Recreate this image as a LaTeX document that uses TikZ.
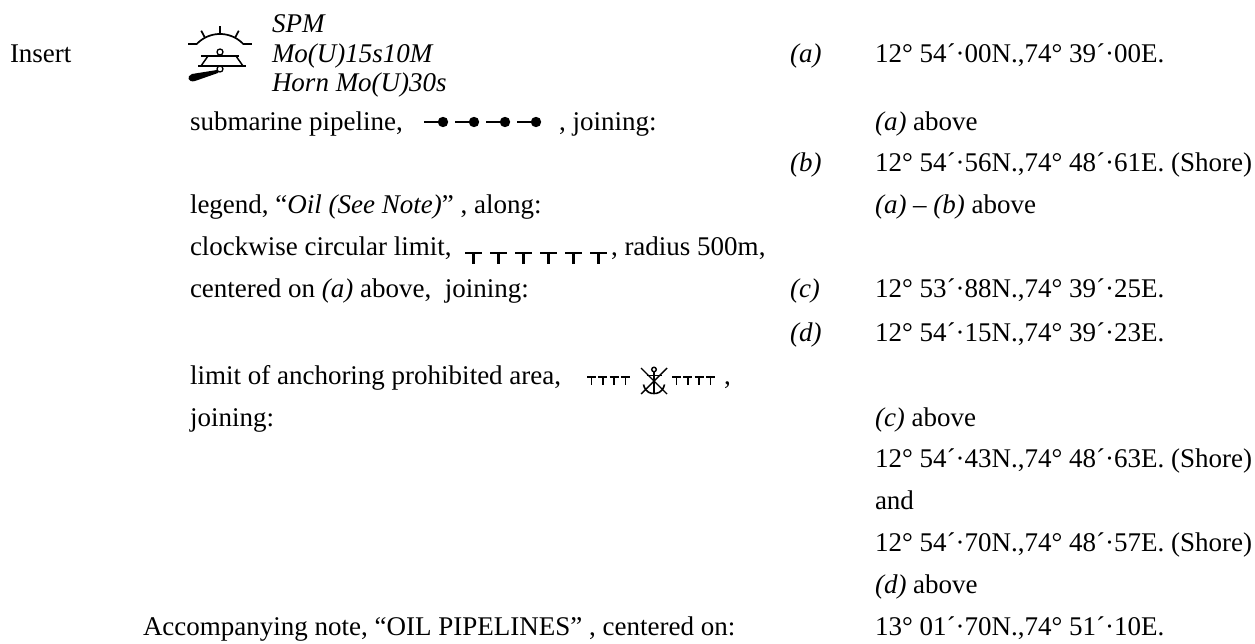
\documentclass[tikz,border=0pt]{standalone}
\usepackage{fontspec}
\setmainfont{Liberation Serif}
\begin{document}
\begin{tikzpicture}[x=1pt,y=-1pt,
  txt/.style={anchor=base west, inner sep=0pt, outer sep=0pt, font=\fontsize{27}{32}\selectfont},
  symline/.style={line width=2.4pt},
  thinsym/.style={line width=1.5pt}]
\useasboundingbox (0,0) rectangle (1255,644);

% ---- Insert block ----
\node[txt] (ins) at (10,63) {Insert};
\node[txt] (spm) at (272,33) {\itshape SPM};
\node[txt] (mo) at (272,63) {\itshape Mo(U)15s10M};
\node[txt] (horn) at (272,92) {\itshape Horn Mo(U)30s};

% SPM light-buoy symbol
\draw[line width=1.7pt] plot[domain=43:137, samples=30] ({220+32*cos(\x)},{66-32*sin(\x)});
\foreach \a in {62,90,118}
  \draw[line width=1.7pt] ({220+32*cos(\a)},{66-32*sin(\a)}) -- ({220+40*cos(\a)},{66-40*sin(\a)});
\draw[line width=1.7pt] (196.6,44.2) -- (188,44.2);
\draw[line width=1.7pt] (243.4,44.2) -- (252,44.2);
\draw[line width=1.5pt] (201,56) -- (239,56);
\draw[line width=1.5pt] (208,56) -- (201,66) -- (243,66) -- (236,56);
\draw[line width=1.5pt] (198,66) -- (246,66);
\draw[line width=1.3pt, fill=white] (220,52) circle (3);
\fill (217,70) -- (218.5,72.8) -- (195,81) .. controls (188,83) and (186,76) .. (192,74) -- cycle;
\draw[line width=1.3pt, fill=white] (220,69) circle (3);

\node[txt] (la) at (790,63) {\itshape (a)};
\node[txt] (ca) at (875,63) {12° 54´·00N.,74° 39´·00E.};

% ---- submarine pipeline ----
\node[txt] (pipe) at (190,131) {submarine pipeline,};
\foreach \i in {0,1,2,3} {
  \draw[line width=2.2pt] ({424+31*\i},122) -- ({440+31*\i},122);
  \fill ({443+31*\i},122) circle (5.2);
}
\node[txt] (pipej) at (559,131) {, joining:};
\node[txt] (aab) at (875,131) {\itshape (a)\upshape\ above};

\node[txt] (lb) at (790,172) {\itshape (b)};
\node[txt] (cb) at (875,172) {12° 54´·56N.,74° 48´·61E. (Shore)};

% ---- legend ----
\node[txt] (leg) at (190,214) {legend, ``\textit{Oil (See Note)}'' , along:};
\node[txt] (abab) at (875,214) {\textit{(a)} – \textit{(b)} above};

% ---- clockwise circular limit ----
\node[txt] (clk) at (190,256) {clockwise circular limit,};
\foreach \i in {0,...,5} {
  \draw[symline] ({465+25*\i},253) -- ({482+25*\i},253);
  \draw[symline] ({473.5+25*\i},253) -- ({473.5+25*\i},264);
}
\node[txt] (rad) at (611,256) {, radius 500m,};

\node[txt] (cen) at (190,298) {centered on \textit{(a)} above,\ \ joining:};
\node[txt] (lc) at (790,298) {\itshape (c)};
\node[txt] (cc) at (875,298) {12° 53´·88N.,74° 39´·25E.};

\node[txt] (ld) at (790,341) {\itshape (d)};
\node[txt] (cd) at (875,341) {12° 54´·15N.,74° 39´·23E.};

% ---- anchoring prohibited ----
\node[txt] (anc) at (190,384) {limit of anchoring prohibited area,};
\foreach \s in {587,672} {
  \foreach \i in {0,...,3} {
    \draw[thinsym] ({\s+11.3*\i},377) -- ({\s+9+11.3*\i},377);
    \draw[thinsym] ({\s+4.5+11.3*\i},377) -- ({\s+4.5+11.3*\i},384.5);
  }
}
% anchor with cross
\draw[line width=1.4pt] (654,369.5) circle (2.3);
\draw[line width=1.6pt] (654,371.8) -- (654,393);
\draw[line width=1.6pt] (646.5,375.5) -- (661.5,375.5);
\draw[line width=1.6pt] (643.5,384.5) .. controls (645.5,393) and (651,393.5) .. (654,393.5) .. controls (657,393.5) and (662.5,393) .. (664.5,384.5);
\draw[line width=1.4pt] (641,368) -- (667,394);
\draw[line width=1.4pt] (641,394) -- (667,368);
\node[txt] (ancc) at (724,384) {,};

\node[txt] (join) at (190,426) {joining:};
\node[txt] (cab) at (875,426) {\itshape (c)\upshape\ above};
\node[txt] (c1) at (875,467) {12° 54´·43N.,74° 48´·63E. (Shore)};
\node[txt] (and) at (875,509) {and};
\node[txt] (c2) at (875,551) {12° 54´·70N.,74° 48´·57E. (Shore)};
\node[txt] (dab) at (875,593) {\itshape (d)\upshape\ above};

\node[txt] (note) at (143,635) {Accompanying note, ``OIL PIPELINES'' , centered on:};
\node[txt] (cn) at (875,635) {13° 01´·70N.,74° 51´·10E.};
\end{tikzpicture}
\end{document}
